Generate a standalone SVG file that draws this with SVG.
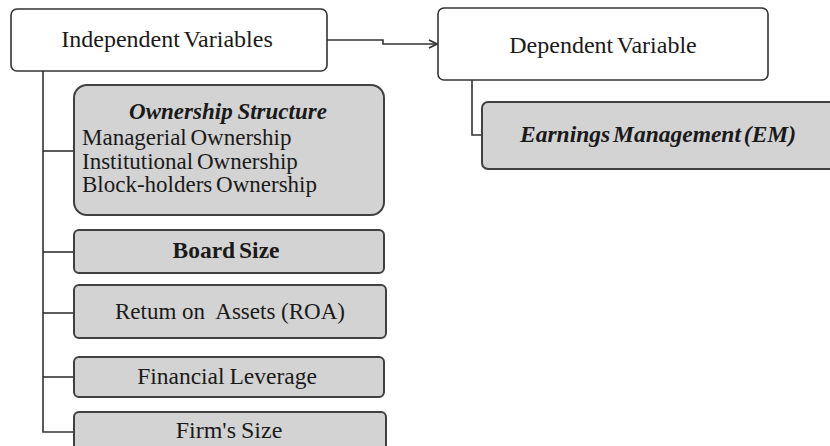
<svg xmlns="http://www.w3.org/2000/svg" width="830" height="446" viewBox="0 0 830 446">
  <style>
    .head { fill: #ffffff; stroke: #333333; stroke-width: 1.6; }
    .item { fill: #d3d3d3; stroke: #404040; stroke-width: 2; }
    .link { fill: none; stroke: #333333; stroke-width: 1.6; }
    text { font-family: "Liberation Serif", "Times New Roman", serif; font-size: 23.5px; fill: #1a1a1a; }
    .c { text-anchor: middle; }
    .b { font-weight: bold; }
    .bi { font-weight: bold; font-style: italic; }
    .title { font-size: 24px; word-spacing: -2px; }
    .list { font-size: 23px; word-spacing: -2px; }
  </style>
  <defs>
    <marker id="arrow" viewBox="0 0 10 10" refX="9" refY="5" markerWidth="10" markerHeight="10" markerUnits="userSpaceOnUse" orient="auto">
      <path d="M1,1 L9,5 L1,9" fill="none" stroke="#333333" stroke-width="1.8"/>
    </marker>
  </defs>

  <!-- connectors: head-to-head arrow, then the two trees of branches -->
  <g id="connectors">
    <path class="link" d="M327,40 H383 V44 H437" marker-end="url(#arrow)"/>
    <path class="link" d="M43,71 V432 H75"/>
    <path class="link" d="M43,151 H75"/>
    <path class="link" d="M43,252 H75"/>
    <path class="link" d="M43,313 H75"/>
    <path class="link" d="M43,377 H75"/>
    <path class="link" d="M472,80 V135 H482"/>
  </g>

  <g id="independent">
    <rect class="head" x="11" y="9" width="316" height="62" rx="6"/>
    <text class="c title" x="167" y="47">Independent Variables</text>
  </g>

  <g id="dependent">
    <rect class="head" x="438" y="8" width="330" height="72" rx="6"/>
    <text class="c title" x="603" y="53">Dependent Variable</text>
  </g>

  <g id="earnings-management">
    <rect class="item" x="482" y="102" width="360" height="67" rx="6"/>
    <text class="bi" x="520" y="142" style="word-spacing:-3px">Earnings Management (EM)</text>
  </g>

  <g id="ownership">
    <rect class="item" x="74" y="85" width="310" height="130" rx="13"/>
    <text class="bi c" x="228" y="119" style="font-size:23px;word-spacing:-1px">Ownership Structure</text>
    <text class="list" x="82" y="145">Managerial Ownership</text>
    <text class="list" x="82" y="169">Institutional Ownership</text>
    <text class="list" x="82" y="192">Block-holders Ownership</text>
  </g>

  <g id="board-size">
    <rect class="item" x="74" y="230" width="310" height="43" rx="5"/>
    <text class="b c" x="226" y="258" style="word-spacing:-2px">Board Size</text>
  </g>

  <g id="roa">
    <rect class="item" x="74" y="285" width="312" height="53" rx="5"/>
    <text class="c" x="230" y="319" xml:space="preserve" style="font-size:23px">Retum on  Assets (ROA)</text>
  </g>

  <g id="leverage">
    <rect class="item" x="74" y="357" width="310" height="40" rx="5"/>
    <text class="c" x="227" y="384" style="word-spacing:-1px">Financial Leverage</text>
  </g>

  <g id="firm-size">
    <rect class="item" x="74" y="412" width="312" height="50" rx="5"/>
    <text class="c" x="229" y="438" style="font-size:24px;word-spacing:-1px">Firm's Size</text>
  </g>
</svg>
